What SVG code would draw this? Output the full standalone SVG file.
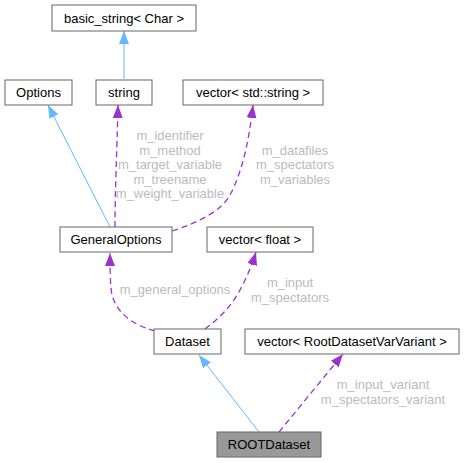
<svg xmlns="http://www.w3.org/2000/svg" width="464" height="463" viewBox="0 0 464 463">
<style>
.box{fill:#fff;stroke:#666;stroke-width:1}
.t{font-family:"Liberation Sans",Arial,sans-serif;font-size:13px;fill:#000;text-anchor:middle}
.lbl{font-family:"Liberation Sans",Arial,sans-serif;font-size:13px;fill:#bbb;text-anchor:middle}
.inh{fill:none;stroke:#63b8ff;stroke-width:1}
.use{fill:none;stroke:#9a32cd;stroke-width:1.3;stroke-dasharray:6,4}
</style>
<defs>
<marker id="ab" viewBox="0 0 13 10" refX="13" refY="5" markerWidth="13" markerHeight="10" markerUnits="userSpaceOnUse" orient="auto"><path d="M0,0 L13,5 L0,10 z" fill="#63b8ff"/></marker>
<marker id="ap" viewBox="0 0 13 10" refX="13" refY="5" markerWidth="13" markerHeight="10" markerUnits="userSpaceOnUse" orient="auto"><path d="M0,0 L13,5 L0,10 z" fill="#9a32cd"/></marker>
</defs>
<rect width="464" height="463" fill="#fff"/>
<g id="connectors">
<path class="inh" d="M124,79 L124,31" marker-end="url(#ab)"/>
<path class="inh" d="M110,227 L48,105" marker-end="url(#ab)"/>
<path class="use" d="M115,227 C115,190 117,150 118,105" marker-end="url(#ap)"/>
<path class="use" d="M172,231 C200,222 222,210 230,195 C243,170 249,140 253,105" marker-end="url(#ap)"/>
<path class="use" d="M155,331 C130,324 117,312 112,295 C110,285 110,265 110,253" marker-end="url(#ap)"/>
<path class="use" d="M205,329 C220,318 232,305 240,290 C247,277 252,265 256,252" marker-end="url(#ap)"/>
<path class="inh" d="M259,432 L199,355" marker-end="url(#ab)"/>
<path class="use" d="M279,432 L343,354" marker-end="url(#ap)"/>
<text class="lbl" x="170" y="140">m_identifier</text>
<text class="lbl" x="170" y="154.5">m_method</text>
<text class="lbl" x="170" y="169">m_target_variable</text>
<text class="lbl" x="170" y="183.5">m_treename</text>
<text class="lbl" x="170" y="198">m_weight_variable</text>
<text class="lbl" x="295" y="154.5">m_datafiles</text>
<text class="lbl" x="295" y="169">m_spectators</text>
<text class="lbl" x="295" y="183.5">m_variables</text>
<text class="lbl" x="175" y="294">m_general_options</text>
<text class="lbl" x="290" y="287">m_input</text>
<text class="lbl" x="290" y="301.5">m_spectators</text>
<text class="lbl" x="383" y="389">m_input_variant</text>
<text class="lbl" x="383" y="403.5">m_spectators_variant</text>
</g>
<g id="basic_string"><rect class="box" x="52" y="5" width="144" height="26"/><text class="t" x="124" y="22.5">basic_string&lt; Char &gt;</text></g>
<g id="Options"><rect class="box" x="5" y="80" width="67" height="25"/><text class="t" x="38.5" y="97">Options</text></g>
<g id="string"><rect class="box" x="96" y="80" width="56" height="25"/><text class="t" x="124" y="97">string</text></g>
<g id="vector_string"><rect class="box" x="183" y="80" width="140" height="25"/><text class="t" x="253" y="97">vector&lt; std::string &gt;</text></g>
<g id="GeneralOptions"><rect class="box" x="60" y="227" width="112" height="25"/><text class="t" x="116" y="244">GeneralOptions</text></g>
<g id="vector_float"><rect class="box" x="207" y="227" width="106" height="25"/><text class="t" x="260" y="244">vector&lt; float &gt;</text></g>
<g id="Dataset"><rect class="box" x="154" y="329" width="67" height="25"/><text class="t" x="187.5" y="346">Dataset</text></g>
<g id="vector_variant"><rect class="box" x="245" y="329" width="214" height="25"/><text class="t" x="352" y="346">vector&lt; RootDatasetVarVariant &gt;</text></g>
<g id="ROOTDataset"><rect class="box" x="217" y="432" width="104" height="25" style="fill:#999"/><text class="t" x="269" y="449">ROOTDataset</text></g>
</svg>
